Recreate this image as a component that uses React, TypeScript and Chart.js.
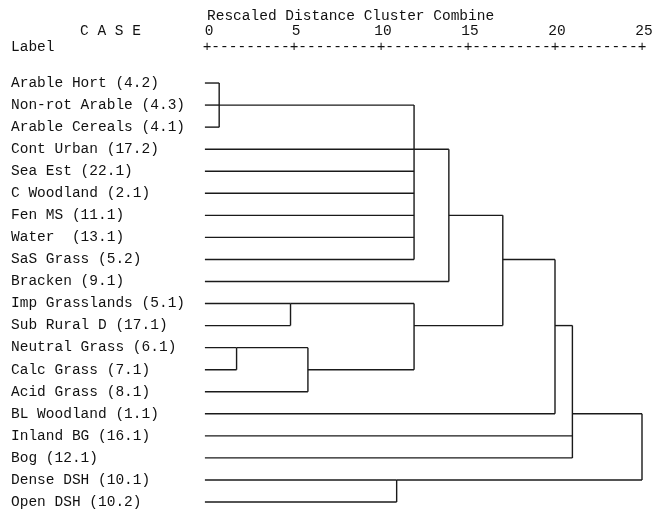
import React, { useEffect, useRef } from "react";
import { Chart, registerables } from "chart.js";

Chart.register(...registerables);

// ---- data ----
const leaves: string[] = [
  "Arable Hort (4.2)",
  "Non-rot Arable (4.3)",
  "Arable Cereals (4.1)",
  "Cont Urban (17.2)",
  "Sea Est (22.1)",
  "C Woodland (2.1)",
  "Fen MS (11.1)",
  "Water  (13.1)",
  "SaS Grass (5.2)",
  "Bracken (9.1)",
  "Imp Grasslands (5.1)",
  "Sub Rural D (17.1)",
  "Neutral Grass (6.1)",
  "Calc Grass (7.1)",
  "Acid Grass (8.1)",
  "BL Woodland (1.1)",
  "Inland BG (16.1)",
  "Bog (12.1)",
  "Dense DSH (10.1)",
  "Open DSH (10.2)",
];

const mergeNames: string[] = ["m1", "m2", "m3", "m4", "m5", "m6", "m7", "m8", "m9", "m10", "m11", "m12"];
const mergeDistances: number[] = [0.7, 11.9, 13.9, 4.8, 1.7, 5.8, 11.9, 17.0, 20.0, 21.0, 10.9, 25.0];
const mergeChildren: string[][] = [
  ["Arable Hort (4.2)", "Non-rot Arable (4.3)", "Arable Cereals (4.1)"],
  ["m1", "Cont Urban (17.2)", "Sea Est (22.1)", "C Woodland (2.1)", "Fen MS (11.1)", "Water  (13.1)", "SaS Grass (5.2)"],
  ["m2", "Bracken (9.1)"],
  ["Imp Grasslands (5.1)", "Sub Rural D (17.1)"],
  ["Neutral Grass (6.1)", "Calc Grass (7.1)"],
  ["m5", "Acid Grass (8.1)"],
  ["m4", "m6"],
  ["m3", "m7"],
  ["m8", "BL Woodland (1.1)"],
  ["m9", "Inland BG (16.1)", "Bog (12.1)"],
  ["Dense DSH (10.1)", "Open DSH (10.2)"],
  ["m10", "m11"],
];
// row (leaf) at which each merged cluster's outgoing link is drawn
const mergeAnchors: (string | null)[] = [
  "Non-rot Arable (4.3)",
  "Cont Urban (17.2)",
  "Fen MS (11.1)",
  "Imp Grasslands (5.1)",
  "Neutral Grass (6.1)",
  "Calc Grass (7.1)",
  "Sub Rural D (17.1)",
  "SaS Grass (5.2)",
  "Sub Rural D (17.1)",
  "BL Woodland (1.1)",
  "Dense DSH (10.1)",
  null,
];

const axisTicks: number[] = [0, 5, 10, 15, 20, 25];
const leafStart = -0.12;

type Pt = { x: number; y: number };

function buildSegments(): Pt[][] {
  const rowOf: Record<string, number> = {};
  const xOf: Record<string, number> = {};
  leaves.forEach((l, i) => {
    rowOf[l] = i;
    xOf[l] = leafStart;
  });
  const segs: Pt[][] = [];
  mergeNames.forEach((name, j) => {
    const d = mergeDistances[j];
    const rows = mergeChildren[j].map((c) => rowOf[c]);
    mergeChildren[j].forEach((c) => {
      segs.push([
        { x: xOf[c], y: rowOf[c] },
        { x: d, y: rowOf[c] },
      ]);
    });
    segs.push([
      { x: d, y: Math.min(...rows) },
      { x: d, y: Math.max(...rows) },
    ]);
    const a = mergeAnchors[j];
    rowOf[name] = a !== null ? leaves.indexOf(a) : Math.min(...rows);
    xOf[name] = d;
  });
  return segs;
}

const FONT = "'Liberation Mono', 'Courier New', monospace";
const FONT_SIZE = 14.5;

const headerPlugin = {
  id: "spssHeader",
  afterDraw(chart: any) {
    const ctx = chart.ctx as CanvasRenderingContext2D;
    const xs = chart.scales.x;
    ctx.save();
    ctx.font = `${FONT_SIZE}px ${FONT}`;
    ctx.fillStyle = "#111";
    ctx.textBaseline = "middle";
    ctx.textAlign = "left";
    ctx.fillText("Rescaled Distance Cluster Combine", xs.getPixelForValue(0), 16);
    ctx.fillText("C A S E", 80, 31);
    ctx.fillText("Label", 11, 47);
    ctx.textAlign = "center";
    axisTicks.forEach((t) => {
      ctx.fillText(String(t), xs.getPixelForValue(t) + 2, 31);
      ctx.fillText("+", xs.getPixelForValue(t), 47);
    });
    for (let i = 0; i < axisTicks.length - 1; i++) {
      const a = axisTicks[i];
      const b = axisTicks[i + 1];
      const step = (b - a) / 10;
      for (let k = 1; k <= 9; k++) {
        ctx.fillText("-", xs.getPixelForValue(a + k * step), 47);
      }
    }
    ctx.restore();
  },
};

export default function App() {
  const ref = useRef<HTMLCanvasElement | null>(null);
  useEffect(() => {
    if (!ref.current) return;
    const segs = buildSegments();
    const chart = new Chart(ref.current, {
      type: "scatter",
      data: {
        datasets: segs.map((s) => ({
          data: s,
          showLine: true,
          borderColor: "#1a1a1a",
          borderWidth: 1.4,
          pointRadius: 0,
          pointHoverRadius: 0,
          fill: false,
          clip: false as any,
        })),
      },
      options: {
        responsive: false,
        animation: false,
        events: [],
        layout: { padding: { left: 11, right: 24, top: 72, bottom: 1 } },
        plugins: {
          legend: { display: false },
          tooltip: { enabled: false },
          title: { display: false },
        },
        scales: {
          x: {
            type: "linear",
            min: 0,
            max: 25,
            display: false,
          },
          y: {
            type: "linear",
            reverse: true,
            min: -0.5,
            max: leaves.length - 0.5,
            grid: { display: false },
            border: { display: false },
            afterBuildTicks: (scale: any) => {
              scale.ticks = leaves.map((_, i) => ({ value: i }));
            },
            afterFit: (scale: any) => {
              scale.width = 196;
              scale.paddingTop = 0;
              scale.paddingBottom = 0;
            },
            ticks: {
              autoSkip: false,
              crossAlign: "far",
              padding: 0,
              color: "#111",
              font: { family: FONT, size: FONT_SIZE },
              callback: (v: any) => leaves[Number(v)] ?? "",
            },
          },
        },
      },
      plugins: [headerPlugin],
    });
    return () => chart.destroy();
  }, []);
  return (
    <div style={{ position: "absolute", left: 0, top: 0, width: 666, height: 514, background: "#fff" }}>
      <canvas ref={ref} width={666} height={514} />
    </div>
  );
}
